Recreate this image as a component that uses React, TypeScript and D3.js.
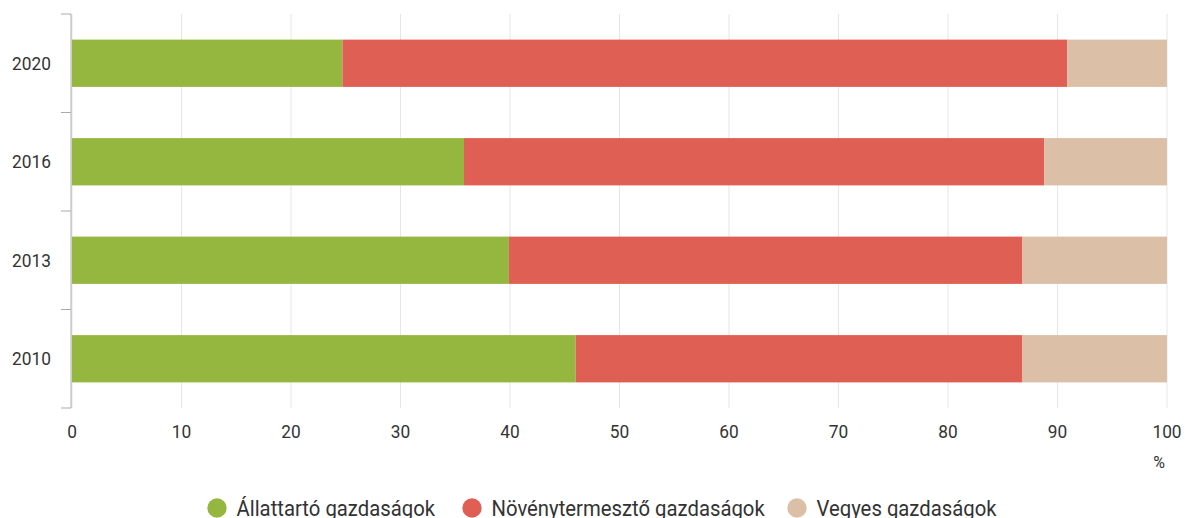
import React from "react";
import * as d3 from "d3";

const years = ["2020", "2016", "2013", "2010"];
const allattarto = [24.7, 35.8, 39.9, 46.0];
const novenytermeszto = [66.2, 53.0, 46.9, 40.8];
const vegyes = [9.1, 11.2, 13.2, 13.2];
const seriesNames = ["Állattartó gazdaságok", "Növénytermesztő gazdaságok", "Vegyes gazdaságok"];
const seriesColors = ["#95b73f", "#e05f55", "#dbbfa6"];
const xTicks = [0, 10, 20, 30, 40, 50, 60, 70, 80, 90, 100];

export default function App() {
  const W = 1185, H = 518;
  const left = 72, right = 1167, top = 14, bottom = 408;
  const x = d3.scaleLinear().domain([0, 100]).range([left, right]);
  const y = d3.scaleBand().domain(years).range([top, bottom]).paddingInner(0.52).paddingOuter(0.26);
  const rows = years.map((yr, i) => ({ year: yr, a: allattarto[i], b: novenytermeszto[i], c: vegyes[i] }));
  const stack = d3.stack<any>().keys(["a", "b", "c"])(rows);
  const bandStep = (bottom - top) / years.length;
  const tickYs = d3.range(years.length + 1).map((i) => top + i * bandStep);
  const legendX = [217, 472, 797];
  const tf = (tx: number, ty: number, sy: number) => `translate(${tx},${ty}) scale(1,${sy})`;
  return (
    <div style={{ position: "absolute", left: 0, top: 0 }}>
      <svg width={W} height={H} style={{ fontFamily: "Roboto, sans-serif", display: "block" }}>
        {xTicks.map((t) => (
          <line key={"g" + t} x1={x(t)} x2={x(t)} y1={top} y2={bottom} stroke="#e6e6e6" strokeWidth={1} />
        ))}
        {stack.map((s, si) =>
          s.map((d, i) => (
            <rect
              key={si + "-" + i}
              x={x(d[0])}
              width={x(d[1]) - x(d[0])}
              y={y(years[i])!}
              height={y.bandwidth()}
              fill={seriesColors[si]}
            />
          ))
        )}
        <line x1={71} x2={71} y1={top} y2={bottom} stroke="#aaaaaa" strokeWidth={1} />
        {tickYs.map((ty, i) => (
          <line key={"t" + i} x1={61} x2={71} y1={ty} y2={ty} stroke="#aaaaaa" strokeWidth={1} />
        ))}
        {years.map((yr) => (
          <text key={yr} transform={tf(51, y(yr)! + y.bandwidth() / 2 + 6.5, 1.08)} textAnchor="end" fontSize={17.3} fill="#333">
            {yr}
          </text>
        ))}
        {xTicks.map((t) => (
          <text key={"x" + t} transform={tf(x(t), 438, 1.08)} textAnchor="middle" fontSize={17.3} fill="#333">
            {t}
          </text>
        ))}
        <text transform={tf(1159, 468, 1.08)} textAnchor="middle" fontSize={16} fill="#333">%</text>
        {seriesNames.map((n, i) => (
          <g key={n}>
            <circle cx={legendX[i]} cy={508} r={9.7} fill={seriesColors[i]} />
            <text transform={tf(legendX[i] + 19.5, 515.7, 1.12)} fontSize={20.3} fill="#333">{n}</text>
          </g>
        ))}
      </svg>
    </div>
  );
}
